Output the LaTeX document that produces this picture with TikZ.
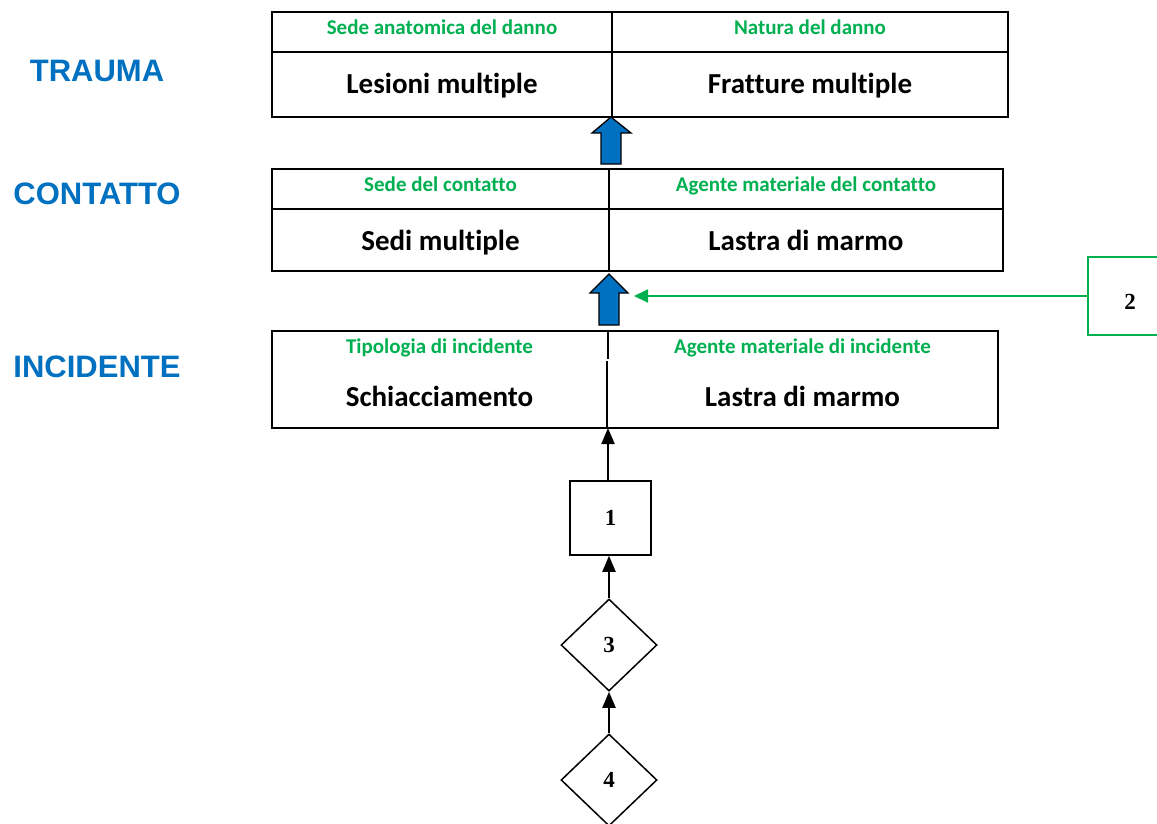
\documentclass[tikz,border=0pt]{standalone}
\usepackage{fontspec}
\setmainfont{Carlito}[Ligatures=NoCommon]
\newfontfamily\arialf{Liberation Sans}
\newfontfamily\timesf{Liberation Serif}
\usetikzlibrary{arrows.meta,shapes.geometric}
\definecolor{lblue}{HTML}{0070C0}
\definecolor{lgreen}{HTML}{00B050}
\begin{document}
\begin{tikzpicture}[x=1pt,y=-1pt,
  frame/.style={draw, line width=2.2pt, inner sep=0pt},
  divider/.style={line width=2pt},
  gl/.style={text=lgreen, font=\bfseries\fontsize{21}{21}\selectfont, inner sep=0pt, text height=0.65em, text depth=0.2em},
  bl/.style={text=black, font=\bfseries\fontsize{29}{29}\selectfont, inner sep=0pt, text height=0.65em, text depth=0.2em},
  lab/.style={text=lblue, font=\arialf\bfseries\fontsize{31}{31}\selectfont, inner sep=0pt},
  num/.style={font=\timesf\bfseries\fontsize{23}{23}\selectfont},
  smallbox/.style={draw, line width=1.5pt, inner sep=0pt},
  dia/.style={draw, diamond, line width=1.5pt, inner sep=0pt, minimum width=96pt, minimum height=92pt},
  arr/.style={line width=2pt, -{Triangle[length=16pt,width=13pt]}},
  garr/.style={draw=lgreen, line width=2pt, -{Triangle[length=14pt,width=13pt]}},
  blk/.style={fill=lblue, draw=black, line width=1.3pt, line join=miter}
]
\useasboundingbox (0,0) rectangle (1157,823);

% left labels
\node[lab] (ltr) at (97,71) {TRAUMA};
\node[lab] (lco) at (97,194) {CONTATTO};
\node[lab] (lin) at (97,367) {INCIDENTE};

% TRAUMA box
\node[frame, minimum width=736pt, minimum height=105pt] (tra) at (640,64.5) {};
\draw[divider] (272,52) -- (1008,52);
\draw[divider] (612,12) -- (612,117);
\node[gl] (tg1) at (442,32) {Sede anatomica del danno};
\node[gl] (tg2) at (810,32) {Natura del danno};
\node[bl] (tb1) at (442,91) {Lesioni multiple};
\node[bl] (tb2) at (810,91) {Fratture multiple};

% CONTATTO box
\node[frame, minimum width=731pt, minimum height=102pt] (con) at (637.5,220) {};
\draw[divider] (272,209) -- (1003,209);
\draw[divider] (609,169) -- (609,271);
\node[gl] (cg1) at (440.5,189) {Sede del contatto};
\node[gl] (cg2) at (806,189) {Agente materiale del contatto};
\node[bl] (cb1) at (440.5,248) {Sedi multiple};
\node[bl] (cb2) at (806,248) {Lastra di marmo};

% INCIDENTE box
\node[frame, minimum width=726pt, minimum height=97pt] (inc) at (635,379.5) {};
\draw[divider] (608,331) -- (608,359);
\draw[divider] (607,361) -- (607,428);
\node[gl] (ig1) at (439.5,351) {Tipologia di incidente};
\node[gl] (ig2) at (802.5,351) {Agente materiale di incidente};
\node[bl] (ib1) at (439.5,404) {Schiacciamento};
\node[bl] (ib2) at (802.5,404) {Lastra di marmo};

% blue block arrows
\filldraw[blk] (592,133) -- (611,117) -- (631,133) -- (621,133) -- (621,164) -- (601,164) -- (601,133) -- cycle;
\filldraw[blk] (590,293) -- (609,274) -- (628,293) -- (619,293) -- (619,325) -- (599,325) -- (599,293) -- cycle;

% box 2 (cut by right edge)
\begin{scope}
\clip (0,0) rectangle (1157,823);
\node[draw=lgreen, line width=1.5pt, minimum width=82pt, minimum height=78pt] (b2) at (1129,296) {};
\end{scope}
\node[num] (n2) at (1130,302) {2};
\coordinate (gtip) at (634,296);
\draw[garr] (b2.west) -- (gtip);

% lower chain
\node[smallbox, minimum width=81pt, minimum height=74pt, num] (b1) at (610.5,518) {1};
\node[dia, num] (d3) at (609,645) {3};
\node[dia, num] (d4) at (609,780) {4};
\coordinate (incb) at (608,428);
\draw[arr] (b1.north -| incb) -- (incb);
\draw[arr] (d3.north) -- (d3.north |- b1.south);
\draw[arr] (d4.north) -- (d3.south);
\end{tikzpicture}
\end{document}
